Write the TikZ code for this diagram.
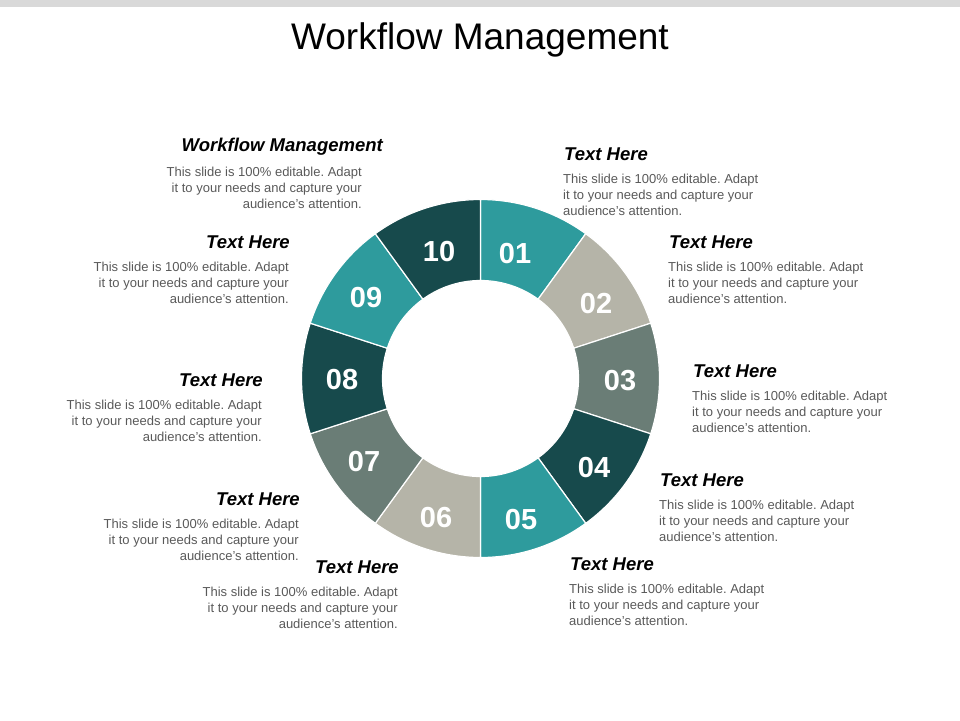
\documentclass[tikz,border=0pt]{standalone}
\usepackage{fontspec}
\setmainfont{Liberation Sans}
\usetikzlibrary{calc, positioning}
\frenchspacing

\definecolor{wfteal}{RGB}{46,155,157}
\definecolor{wfbeige}{RGB}{181,180,168}
\definecolor{wfgray}{RGB}{106,125,118}
\definecolor{wfdark}{RGB}{23,74,76}
\definecolor{wftext}{RGB}{89,89,89}
\definecolor{wfbar}{RGB}{217,217,217}

\newcommand{\blurb}{This slide is 100\% editable. Adapt\\it to your needs and capture your\\audience's attention.}

\tikzset{
  wfhead/.style={inner sep=0pt, text depth=0pt, font=\fontsize{18.5}{22}\selectfont\bfseries\itshape},
  wfbody/.style={inner sep=0pt, text=wftext, font=\fontsize{13}{16}\selectfont},
  wfnum/.style={text=white, inner sep=0pt, font=\fontsize{29}{30}\selectfont\bfseries},
  wfseg/.style={draw=white, line width=1.2pt}
}

\begin{document}
\begin{tikzpicture}[x=1pt, y=-1pt]
  \useasboundingbox (0,0) rectangle (960,720);
  \fill[wfbar] (0,0) rectangle (960,7);
  \node[font=\fontsize{37}{40}\selectfont, anchor=base] (title) at (480,49) {Workflow Management};

  % ring of ten segments
  \coordinate (c) at (480.5,378.5);
  \foreach \i/\col/\lab/\nx/\ny in {1/wfteal/01/515/254, 2/wfbeige/02/596/304, 3/wfgray/03/620/381,
      4/wfdark/04/594/468, 5/wfteal/05/521/520, 6/wfbeige/06/436/518, 7/wfgray/07/364/462,
      8/wfdark/08/342/380, 9/wfteal/09/366/298, 10/wfdark/10/439/252}{
    \pgfmathsetmacro\a{-90+36*(\i-1)}
    \pgfmathsetmacro\b{\a+36}
    \fill[\col, wfseg] ($(c)+(\a:179)$) arc[start angle=\a, end angle=\b, radius=179]
      -- ($(c)+(\b:98)$) arc[start angle=\b, end angle=\a, radius=98] -- cycle;
    \node[wfnum] (n\i) at (\nx,\ny) {\lab};
  }

  % text blocks
  \node[wfhead, anchor=base east] (h0) at (383,151) {Workflow Management};
  \node[wfbody, align=right, below=16pt of h0.south east, anchor=north east, xshift=-21pt] (b0) {\blurb};

  \foreach \k/\hx/\hy in {1/564/160, 2/669/248, 3/693/377, 4/660/486, 5/570/570}{
    \node[wfhead, anchor=base west] (h\k) at (\hx,\hy) {Text Here};
    \node[wfbody, align=left, below=13.5pt of h\k.south west, anchor=north west, xshift=-1pt] (b\k) {\blurb};
  }
  \foreach \k/\hx/\hy in {6/399/573, 7/300/505, 8/263/386, 9/290/248}{
    \node[wfhead, anchor=base east] (h\k) at (\hx,\hy) {Text Here};
    \node[wfbody, align=right, below=13.5pt of h\k.south east, anchor=north east, xshift=-1pt] (b\k) {\blurb};
  }
\end{tikzpicture}
\end{document}
